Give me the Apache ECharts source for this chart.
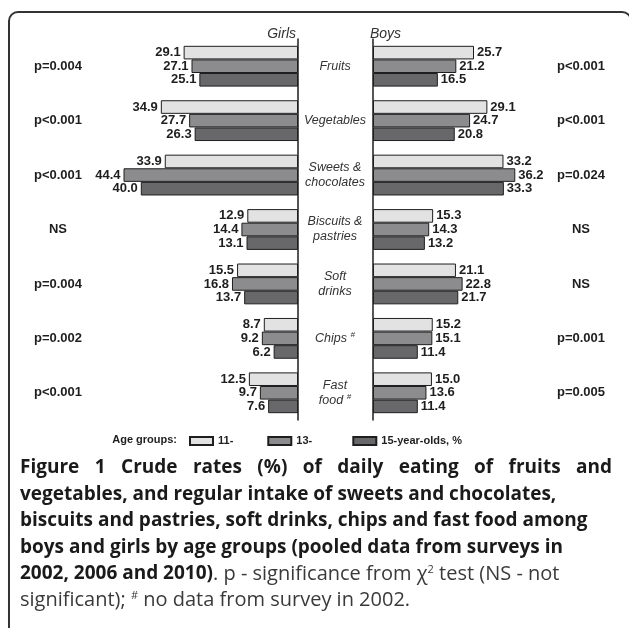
<!DOCTYPE html>
<html>
<head>
<meta charset="utf-8">
<script src="https://cdn.jsdelivr.net/npm/echarts@6/dist/echarts.min.js"></script>
<style>
  html, body { margin: 0; padding: 0; background: #fff; }
  #chart { width: 629px; height: 628px; }
</style>
</head>
<body>
<div id="chart"></div>
<script>
// food groups, top to bottom ('#' = superscript mark)
const categories = ['Fruits', 'Vegetables', 'Sweets &\nchocolates', 'Biscuits &\npastries', 'Soft\ndrinks', 'Chips #', 'Fast\nfood #'];
const ageGroups = ['11-', '13-', '15-year-olds, %'];

const girls11 = [29.1, 34.9, 33.9, 12.9, 15.5, 8.7, 12.5];
const girls13 = [27.1, 27.7, 44.4, 14.4, 16.8, 9.2, 9.7];
const girls15 = [25.1, 26.3, 40.0, 13.1, 13.7, 6.2, 7.6];
const boys11 = [25.7, 29.1, 33.2, 15.3, 21.1, 15.2, 15.0];
const boys13 = [21.2, 24.7, 36.2, 14.3, 22.8, 15.1, 13.6];
const boys15 = [16.5, 20.8, 33.3, 13.2, 21.7, 11.4, 11.4];

const girlsP = ['p=0.004', 'p<0.001', 'p<0.001', 'NS', 'p=0.004', 'p=0.002', 'p<0.001'];
const boysP = ['p<0.001', 'p<0.001', 'p=0.024', 'NS', 'NS', 'p=0.001', 'p=0.005'];

const colors = ['#e2e2e2', '#8c8c8e', '#68686a'];
const ink = '#1e1e1e';
const sans = '"Liberation Sans", Arial, sans-serif';
const capFont = '"Open Sans", "Noto Sans", sans-serif';
const capSize = 19;

const chart = echarts.init(document.getElementById('chart'));

function bars(name, data, xi, yi, color, side) {
  return {
    name: name,
    type: 'bar',
    xAxisIndex: xi,
    yAxisIndex: yi,
    data: data,
    barWidth: 13.6,
    barGap: '0%',
    silent: true,
    itemStyle: { color: color, borderColor: ink, borderWidth: 1 },
    label: {
      show: true,
      position: side,
      distance: 3,
      formatter: p => p.value.toFixed(1),
      fontFamily: sans,
      fontWeight: 'bold',
      fontSize: 13,
      color: ink
    }
  };
}

function pAxis(grid, pos, labels, margin) {
  return {
    gridIndex: grid,
    type: 'category',
    data: categories,
    inverse: true,
    position: pos,
    axisLine: { show: false, onZero: false },
    axisTick: { show: false },
    axisLabel: {
      margin: margin,
      align: 'center',
      formatter: (v, i) => labels[i],
      fontFamily: sans,
      fontWeight: 'bold',
      fontSize: 13,
      color: ink
    }
  };
}

// caption, first line stretched to the full width
const line1 = 'Figure 1 Crude rates (%) of daily eating of fruits and';
const ctx = document.createElement('canvas').getContext('2d');
ctx.font = 'bold ' + capSize + 'px "Open Sans"';
const words = line1.split(' ');
const wWidths = words.map(w => ctx.measureText(w).width);
const capLeft = 20, capRight = 612;
const wGap = (capRight - capLeft - wWidths.reduce((a, b) => a + b, 0)) / (words.length - 1);

function capStyle(text) {
  return {
    text: text,
    fontFamily: capFont,
    fontSize: capSize,
    fontWeight: 'bold',
    fill: '#1a1a1a',
    align: 'left',
    verticalAlign: 'middle',
    textAlign: 'left',
    textVerticalAlign: 'middle'
  };
}

function capText(x, y, text, rich) {
  const style = capStyle(text);
  if (rich) style.rich = rich;
  return { type: 'text', x: x, y: y, silent: true, style: style };
}

const graphics = [
  {
    type: 'rect',
    silent: true,
    shape: { x: 9, y: 12, width: 622, height: 640, r: 9 },
    style: { fill: 'none', stroke: '#333', lineWidth: 2 }
  },
  {
    type: 'text', x: 296, y: 34, silent: true,
    style: { text: 'Girls', fontFamily: sans, fontStyle: 'italic', fontSize: 14, fill: '#333',
      align: 'right', verticalAlign: 'middle', textAlign: 'right', textVerticalAlign: 'middle' }
  },
  {
    type: 'text', x: 370, y: 34, silent: true,
    style: { text: 'Boys', fontFamily: sans, fontStyle: 'italic', fontSize: 14, fill: '#333',
      align: 'left', verticalAlign: 'middle', textAlign: 'left', textVerticalAlign: 'middle' }
  },
  {
    type: 'text', x: 177, y: 440, silent: true,
    style: { text: 'Age groups:', fontFamily: sans, fontWeight: 'bold', fontSize: 11, fill: ink,
      align: 'right', verticalAlign: 'middle', textAlign: 'right', textVerticalAlign: 'middle' }
  }
];

let wx = capLeft;
words.forEach((w, i) => {
  graphics.push(capText(wx, 468, w));
  wx += wWidths[i] + wGap;
});
graphics.push(capText(capLeft, 495, 'vegetables, and regular intake of sweets and chocolates,'));
graphics.push(capText(capLeft, 521, 'biscuits and pastries, soft drinks, chips and fast food among'));
graphics.push(capText(capLeft, 548, 'boys and girls by age groups (pooled data from surveys in'));

const capRich = {
  b: { fontFamily: capFont, fontSize: capSize, fontWeight: 'bold', fill: '#1a1a1a', color: '#1a1a1a' },
  n: { fontFamily: capFont, fontSize: 20, fontWeight: 'normal', fill: '#3a3a3a', color: '#3a3a3a' },
  s: { fontFamily: capFont, fontSize: 11, fontWeight: 'normal', fill: '#3a3a3a', color: '#3a3a3a', verticalAlign: 'top' }
};
graphics.push(capText(capLeft, 574, '{b|2002, 2006 and 2010)}{n|. p - significance from χ}{s|2}{n| test (NS - not}', capRich));
graphics.push(capText(capLeft, 600, '{n|significant); }{s|#}{n| no data from survey in 2002.}', capRich));

const option = {
  animation: false,
  backgroundColor: '#fff',
  grid: [
    { left: 101.5, width: 196.5, top: 39, height: 381 },
    { left: 373, width: 196.5, top: 39, height: 381 }
  ],
  xAxis: [
    { gridIndex: 0, type: 'value', min: 0, max: 50, inverse: true, show: false },
    { gridIndex: 1, type: 'value', min: 0, max: 50, show: false }
  ],
  yAxis: [
    {
      gridIndex: 0,
      type: 'category',
      data: categories,
      inverse: true,
      position: 'right',
      axisLine: { show: true, onZero: false, lineStyle: { color: ink, width: 1.5 } },
      axisTick: { show: false },
      axisLabel: {
        margin: 37,
        align: 'center',
        formatter: v => v.replace('#', '{sup|#}'),
        fontFamily: sans,
        fontStyle: 'italic',
        fontSize: 12.5,
        lineHeight: 15,
        color: '#333',
        rich: {
          sup: { fontFamily: sans, fontStyle: 'italic', fontSize: 8, color: '#333', verticalAlign: 'top', lineHeight: 15 }
        }
      }
    },
    pAxis(0, 'left', girlsP, 43.5),
    {
      gridIndex: 1,
      type: 'category',
      data: categories,
      inverse: true,
      position: 'left',
      axisLine: { show: true, onZero: false, lineStyle: { color: ink, width: 1.5 } },
      axisTick: { show: false },
      axisLabel: { show: false }
    },
    pAxis(1, 'right', boysP, 11.5)
  ],
  legend: {
    data: ageGroups,
    // the middle entry sits a little further from the last one
    formatter: name => name === ageGroups[1] ? name + '  ' : name,
    left: 184,
    top: 430.5,
    icon: 'rect',
    itemWidth: 23,
    itemHeight: 8,
    itemGap: 34,
    selectedMode: false,
    textStyle: { fontFamily: sans, fontWeight: 'bold', fontSize: 11, color: ink }
  },
  graphic: graphics,
  series: [
    bars(ageGroups[0], girls11, 0, 0, colors[0], 'left'),
    bars(ageGroups[1], girls13, 0, 0, colors[1], 'left'),
    bars(ageGroups[2], girls15, 0, 0, colors[2], 'left'),
    bars(ageGroups[0], boys11, 1, 2, colors[0], 'right'),
    bars(ageGroups[1], boys13, 1, 2, colors[1], 'right'),
    bars(ageGroups[2], boys15, 1, 2, colors[2], 'right')
  ]
};

chart.setOption(option);
</script>
</body>
</html>
